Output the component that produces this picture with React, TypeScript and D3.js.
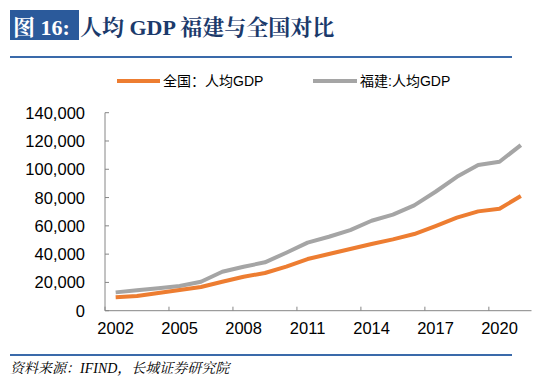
import React from "react";
import * as d3 from "d3";

const years: string[] = ["2002","2003","2004","2005","2006","2007","2008","2009","2010","2011","2012","2013","2014","2015","2016","2017","2018","2019","2020","2021"];
const national: number[] = [9430,10370,12490,14610,16730,20500,24040,26630,31110,36530,40070,43600,47130,50430,54200,59860,65760,70230,72120,81080];
const fujian: number[] = [12960,14400,15900,17500,20500,27500,31100,34200,41000,48100,52300,57000,63600,67900,74500,84100,94700,103000,105300,117100];
const yTicks: number[] = [0,20000,40000,60000,80000,100000,120000,140000];
const xTickLabels: string[] = ["2002","2005","2008","2011","2014","2017","2020"];
const seriesNames: string[] = ["全国：人均GDP", "福建:人均GDP"];

const W = 550, H = 386;
const left = 105, right = 531.5, top = 112.7, bottom = 310.7;

export default function App() {
  const x = d3.scaleBand<string>().domain(years).range([left, right]).paddingInner(0).paddingOuter(0);
  const y = d3.scaleLinear().domain([0, 140000]).range([bottom, top]);
  const cx = (yr: string) => (x(yr) as number) + x.bandwidth() / 2;
  const line = d3.line<number>().x((_, i) => cx(years[i])).y((v) => y(v));
  const fmt = d3.format(",");
  const sans = "'Liberation Sans', Arial, 'Noto Sans CJK SC', sans-serif";
  const serif = "'Liberation Serif', 'Times New Roman', 'Noto Serif CJK SC', 'Noto Sans CJK SC', serif";
  const axisColor = "#868686";
  return (
    <svg width={W} height={H} style={{ position: "absolute", left: 0, top: 0, background: "#fff" }}>
      <rect x={10} y={10} width={69} height={30} fill="#2B5A9B" />
      <text x={13} y={35} fill="#fff" fontFamily={serif} fontWeight="bold" fontSize={22}>图 16:</text>
      <text x={80} y={35} fill="#1B3A6B" fontFamily={serif} fontWeight="bold" fontSize={22}>人均 GDP 福建与全国对比</text>
      <line x1={10} x2={512} y1={57} y2={57} stroke="#3A6AAA" strokeWidth={2} />

      {/* legend */}
      <line x1={117} x2={160} y1={81} y2={81} stroke="#ED7D31" strokeWidth={4} />
      <text x={163} y={86} fontFamily={sans} fontSize={14} fill="#000">{seriesNames[0]}</text>
      <line x1={313} x2={357} y1={81} y2={81} stroke="#A5A5A5" strokeWidth={4} />
      <text x={360} y={86} fontFamily={sans} fontSize={14} fill="#000">{seriesNames[1]}</text>

      {/* axes */}
      <line x1={left} x2={left} y1={top} y2={bottom} stroke={axisColor} strokeWidth={1} />
      <line x1={left} x2={right} y1={bottom} y2={bottom} stroke={axisColor} strokeWidth={1} />
      {yTicks.map((t) => (
        <g key={t}>
          <line x1={left} x2={left + 4} y1={y(t)} y2={y(t)} stroke={axisColor} />
          <text x={85} y={y(t) + 6} textAnchor="end" fontFamily={sans} fontSize={16.5} fill="#000">{fmt(t)}</text>
        </g>
      ))}
      {xTickLabels.map((t) => (
        <g key={t}>
          <line x1={x(t) as number} x2={x(t) as number} y1={bottom} y2={bottom - 4} stroke={axisColor} />
          <text x={cx(t)} y={334} textAnchor="middle" fontFamily={sans} fontSize={16.5} fill="#000">{t}</text>
        </g>
      ))}

      <path d={line(fujian) || ""} fill="none" stroke="#A5A5A5" strokeWidth={4} strokeLinejoin="round" />
      <path d={line(national) || ""} fill="none" stroke="#ED7D31" strokeWidth={4} strokeLinejoin="round" />

      <line x1={10} x2={512} y1={355} y2={355} stroke="#3A6AAA" strokeWidth={2} />
      <text x={10} y={373} fontFamily={serif} fontStyle="italic" fontSize={14} fill="#000">资料来源：IFIND，长城证券研究院</text>
    </svg>
  );
}
